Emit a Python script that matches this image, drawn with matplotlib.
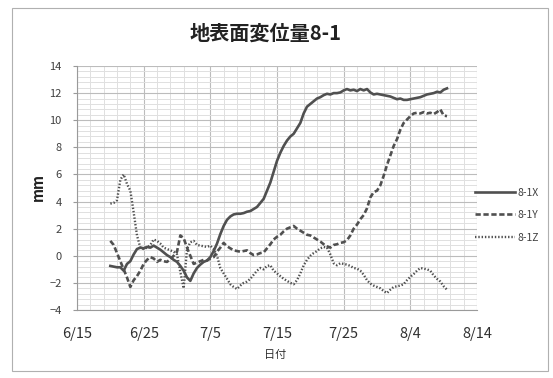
import numpy as np
import matplotlib
matplotlib.use("Agg")
import matplotlib.pyplot as plt
from matplotlib.patches import Rectangle
import datetime as dt

plt.rcParams['font.family'] = ['Noto Sans CJK JP', 'DejaVu Sans']

start = dt.datetime(2013, 6, 15)
# sampling: days after 6/15 (half-day steps)
days = np.arange(5.0, 56.0, 0.5)

x_vals = [-0.75, -0.8, -0.85, -0.85, -1.1, -0.6, -0.4, 0.1, 0.5, 0.6,
          0.55, 0.65, 0.6, 0.75, 0.6, 0.45, 0.25, 0.05, -0.1, -0.3,
          -0.45, -0.75, -1.1, -1.6, -1.85, -1.3, -0.9, -0.65, -0.45, -0.35,
          -0.1, 0.35, 0.9, 1.6, 2.2, 2.65, 2.9, 3.05, 3.1, 3.1,
          3.15, 3.25, 3.3, 3.45, 3.6, 3.9, 4.2, 4.8, 5.4, 6.2,
          7.0, 7.6, 8.1, 8.5, 8.8, 9.0, 9.4, 9.8, 10.5, 11.0,
          11.2, 11.4, 11.6, 11.7, 11.85, 11.95, 11.9, 12.0, 12.0, 12.05,
          12.2, 12.3, 12.2, 12.25, 12.15, 12.3, 12.2, 12.3, 12.05, 11.9,
          11.95, 11.9, 11.85, 11.8, 11.75, 11.65, 11.55, 11.6, 11.5, 11.5,
          11.55, 11.6, 11.65, 11.7, 11.8, 11.9, 11.95, 12.0, 12.1, 12.05,
          12.25, 12.35]

y_vals = [1.1, 0.8, 0.2, -0.4, -1.0, -1.6, -2.3, -1.8, -1.5, -1.1,
          -0.6, -0.3, -0.1, -0.2, -0.45, -0.3, -0.4, -0.45, -0.25, 0.0,
          0.3, 1.5, 1.3, 0.6, 0.0, -0.6, -0.5, -0.4, -0.3, -0.35,
          -0.2, -0.1, 0.3, 0.6, 0.95, 0.7, 0.55, 0.4, 0.35, 0.3,
          0.35, 0.4, 0.2, 0.05, 0.1, 0.2, 0.25, 0.55, 0.85, 1.2,
          1.4, 1.55, 1.8, 2.0, 2.1, 2.2, 2.0, 1.85, 1.7, 1.55,
          1.5, 1.35, 1.2, 1.05, 0.85, 0.7, 0.6, 0.8, 0.85, 0.95,
          1.0, 1.15, 1.5, 2.0, 2.3, 2.7, 3.0, 3.5, 4.3, 4.7,
          4.8, 5.2, 5.9, 6.7, 7.4, 8.1, 8.6, 9.3, 9.8, 10.05,
          10.3, 10.5, 10.55, 10.5, 10.6, 10.5, 10.55, 10.45, 10.6, 10.8,
          10.35, 10.3]

z_vals = [3.85, 3.9, 4.1, 5.6, 6.0, 5.3, 4.8, 3.2, 1.5, 0.6,
          0.5, 0.6, 0.8, 1.2, 1.1, 0.9, 0.6, 0.5, 0.4, 0.3,
          0.1, -1.2, -2.4, 0.5, 1.0, 1.1, 0.8, 0.75, 0.7, 0.65,
          0.75, 0.5, 0.0, -0.9, -1.3, -1.7, -2.1, -2.3, -2.45, -2.2,
          -2.0, -1.9, -1.7, -1.4, -1.1, -0.9, -1.0, -0.75, -0.7, -1.1,
          -1.3, -1.5, -1.7, -1.85, -2.0, -2.1, -1.8, -1.3, -0.7, -0.3,
          0.0, 0.2, 0.35, 0.55, 0.65, 0.6, 0.1, -0.55, -0.7, -0.55,
          -0.6, -0.65, -0.75, -0.9, -0.95, -1.1, -1.4, -1.8, -2.05, -2.2,
          -2.3, -2.4, -2.6, -2.75, -2.5, -2.3, -2.25, -2.2, -2.1, -1.8,
          -1.55, -1.35, -1.1, -0.9, -0.95, -1.0, -1.1, -1.45, -1.7, -1.9,
          -2.25, -2.5]

series_names = ['8-1X', '8-1Y', '8-1Z']
tick_labels = ['6/15', '6/25', '7/5', '7/15', '7/25', '8/4', '8/14']
y_ticks = [-4, -2, 0, 2, 4, 6, 8, 10, 12, 14]

dates = [start + dt.timedelta(days=float(d)) for d in days]

fig = plt.figure(figsize=(5.53, 3.78), dpi=100)
fig.patch.set_facecolor('white')
# outer chart border
fig.add_artist(Rectangle((12/553, 1-371/378), (548-12)/553, (371-8)/378,
                         transform=fig.transFigure, fill=False,
                         edgecolor='#b0b0b0', linewidth=0.8))

ax = fig.add_axes([77/553, 1-310/378, 400/553, 244/378])

line_color = '#505050'
ax.plot(dates, x_vals, color=line_color, lw=1.9, ls='-', label=series_names[0])
ax.plot(dates, y_vals, color=line_color, lw=1.9, ls=(0, (2.0, 1.0)), label=series_names[1])
ax.plot(dates, z_vals, color=line_color, lw=1.7, ls=(0, (0.6, 0.8)), label=series_names[2])

xmin = start
xmax = start + dt.timedelta(days=60)
ax.set_xlim(xmin, xmax)
ax.set_ylim(-4, 14)

major_x = [start + dt.timedelta(days=10 * i) for i in range(len(tick_labels))]
minor_x = [start + dt.timedelta(days=2 * i) for i in range(31)]
ax.set_xticks(major_x)
ax.set_xticklabels(tick_labels)
ax.set_xticks(minor_x, minor=True)
ax.set_yticks(y_ticks)
ax.set_yticks(np.arange(-4, 14.01, 0.4), minor=True)

ax.grid(which='minor', color='#e0e0e0', lw=0.7)
ax.grid(which='major', color='#bcbcbc', lw=0.8)
ax.set_axisbelow(True)

for s in ['top', 'right']:
    ax.spines[s].set_visible(False)
ax.spines['left'].set_color('#9a9a9a')
ax.spines['bottom'].set_color('#9a9a9a')
ax.tick_params(axis='both', which='minor', length=0)
ax.tick_params(axis='y', which='major', length=3, color='#9a9a9a', labelsize=8, pad=8, labelcolor='#404040')
ax.tick_params(axis='x', which='major', length=0, labelsize=10.5, pad=12, labelcolor='#303030')

fig.text(266/553, 1-33/378, '地表面変位量8-1', ha='center', va='center',
         fontsize=14.5, fontweight='bold', color='#222222')
fig.text(38/553, 1-187/378, 'mm', ha='center', va='center', rotation=90,
         fontsize=10.5, fontweight='bold', color='#222222')
fig.text(275/553, 1-355/378, '日付', ha='center', va='center',
         fontsize=8, color='#303030')

leg = fig.legend(loc='center left', bbox_to_anchor=(470/553, 1-215/378),
                 frameon=False, fontsize=7.5, handlelength=3.8,
                 handletextpad=0.3, labelspacing=1.2, borderpad=0)
for t in leg.get_texts():
    t.set_color('#404040')

fig.savefig('out.png', dpi=100, facecolor='white')
